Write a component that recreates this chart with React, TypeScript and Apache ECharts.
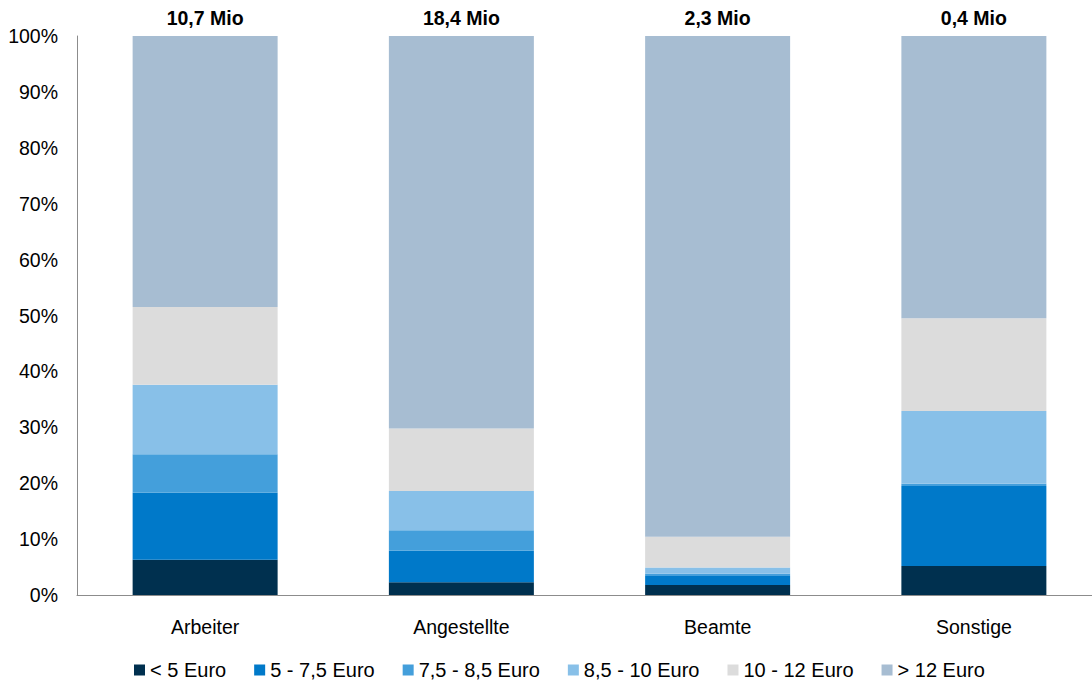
import React, { useEffect, useRef } from "react";
import * as echarts from "echarts";

const categories = ["Arbeiter", "Angestellte", "Beamte", "Sonstige"];
const totals = ["10,7 Mio", "18,4 Mio", "2,3 Mio", "0,4 Mio"];
const seriesNames = ["< 5 Euro", "5 - 7,5 Euro", "7,5 - 8,5 Euro", "8,5 - 10 Euro", "10 - 12 Euro", "> 12 Euro"];
const under5 = [6.3, 2.3, 1.8, 5.2];
const from5to75 = [12.0, 5.6, 1.6, 14.3];
const from75to85 = [6.9, 3.7, 0.4, 0.4];
const from85to10 = [12.4, 7.0, 1.1, 13.0];
const from10to12 = [13.9, 11.2, 5.5, 16.6];
const over12 = [48.5, 70.2, 89.6, 50.5];
const yTicks = [0, 10, 20, 30, 40, 50, 60, 70, 80, 90, 100];

const colors = ["#00304F", "#0079C9", "#449FDB", "#88C0E8", "#DCDCDC", "#A7BDD2"];
const allData = [under5, from5to75, from75to85, from85to10, from10to12, over12];

const FONT = "'Liberation Sans', Arial, sans-serif";

export default function App() {
  const ref = useRef<HTMLDivElement>(null);
  useEffect(() => {
    if (!ref.current) return;
    const chart = echarts.init(ref.current, null, { renderer: "svg" });
    chart.setOption({
      animation: false,
      textStyle: { fontFamily: FONT },
      grid: { left: 77, top: 36, right: 18, bottom: 86, containLabel: false },
      legend: {
        left: 134,
        top: 660,
        padding: 0,
        itemWidth: 11,
        itemHeight: 11,
        itemGap: 28,
        icon: "rect",
        textStyle: { fontSize: 20, color: "#000", fontFamily: FONT, padding: [0, 0, 0, 0] },
        data: seriesNames,
      },
      xAxis: {
        type: "category",
        data: categories,
        axisLine: { lineStyle: { color: "#8C8C8C", width: 1 } },
        axisTick: { show: false },
        axisLabel: { color: "#000", fontSize: 19.5, margin: 22, fontFamily: FONT },
      },
      yAxis: {
        type: "value",
        min: yTicks[0],
        max: yTicks[yTicks.length - 1],
        interval: 10,
        axisLine: { show: true, lineStyle: { color: "#8C8C8C", width: 1 } },
        axisTick: { show: false },
        splitLine: { show: false },
        axisLabel: { color: "#000", fontSize: 19.5, margin: 19, formatter: "{value}%", fontFamily: FONT },
      },
      series: seriesNames.map((name, i) => ({
        name,
        type: "bar",
        stack: "total",
        barWidth: 145,
        data: allData[i],
        itemStyle: { color: colors[i] },
        label:
          i === seriesNames.length - 1
            ? {
                show: true,
                position: "top",
                distance: 8,
                fontSize: 19.5,
                fontWeight: "bold",
                color: "#000",
                fontFamily: FONT,
                formatter: (p: any) => totals[p.dataIndex],
              }
            : { show: false },
      })),
    });
    return () => chart.dispose();
  }, []);
  return (
    <div style={{ position: "fixed", left: 0, top: 0, width: 1092, height: 681, overflow: "hidden", background: "#fff" }}>
      <div ref={ref} style={{ width: 1120, height: 681 }} />
    </div>
  );
}
